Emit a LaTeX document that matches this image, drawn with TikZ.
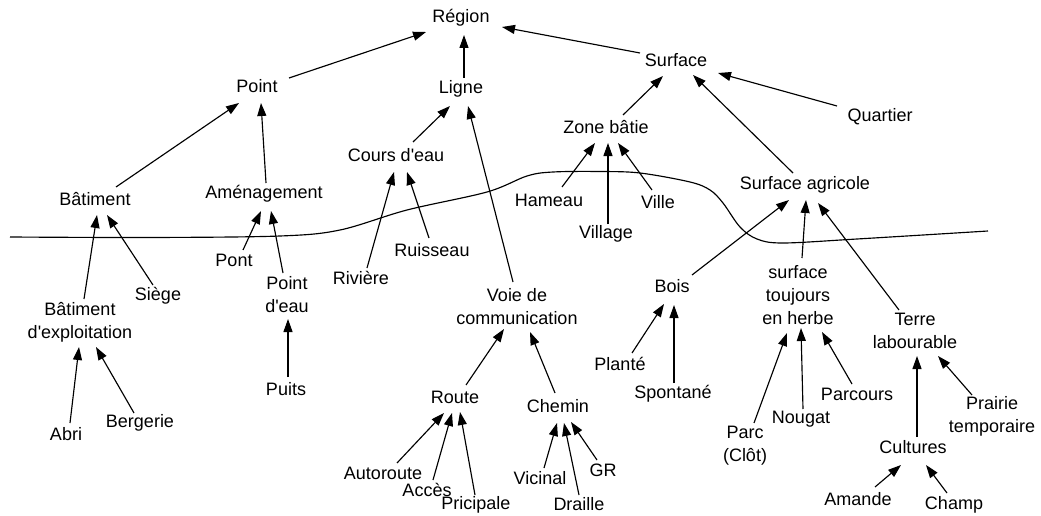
\documentclass[tikz,border=0pt]{standalone}
\usepackage{fontspec}
\setmainfont{Liberation Sans}[Ligatures=TeXOff]
\usetikzlibrary{arrows.meta}
\newcommand\conn[4]{\draw[arr] ([shift={(#2)}]#1.center) -- ([shift={(#4)}]#3.center);}
\begin{document}
\begin{tikzpicture}[x=1pt,y=-1pt,
  lbl/.style={inner sep=0pt, align=center, font=\fontsize{18}{23}\selectfont},
  arr/.style={line width=1.15pt, -{Triangle[length=13pt,width=9pt]}}]
\fill[white] (0,0) rectangle (1041,516);
\useasboundingbox (0,0) rectangle (1041,516);
% nodes
\node[lbl] (reg) at (461,18) {Région};
\node[lbl] (pt) at (257,86) {Point};
\node[lbl] (lig) at (461,89) {Ligne};
\node[lbl] (surf) at (676,60) {Surface};
\node[lbl] (quart) at (880,117) {Quartier};
\node[lbl] (zone) at (606,127) {Zone bâtie};
\node[lbl] (cours) at (396,155) {Cours d'eau};
\node[lbl] (bat) at (95,199) {Bâtiment};
\node[lbl] (amen) at (264,194) {Aménagement};
\node[lbl] (sagr) at (805,185) {Surface agricole};
\node[lbl] (ham) at (549,200) {Hameau};
\node[lbl] (ville) at (658,202) {Ville};
\node[lbl] (vill) at (606,234) {Village};
\node[lbl] (ruis) at (432,250) {Ruisseau};
\node[lbl] (riv) at (361,278) {Rivière};
\node[lbl] (pont) at (234,260) {Pont};
\node[lbl] (pteau) at (287,295) {Point\\d'eau};
\node[lbl] (siege) at (158,296) {Siège};
\node[lbl] (batex) at (80,322) {Bâtiment\\d'exploitation};
\node[lbl] (puits) at (286,389) {Puits};
\node[lbl] (abri) at (66,434) {Abri};
\node[lbl] (berg) at (140,423) {Bergerie};
\node[lbl] (voie) at (517,307) {Voie de\\communication};
\node[lbl] (route) at (455,397) {Route};
\node[lbl] (chemin) at (558,406) {Chemin};
\node[lbl] (auto) at (383,473) {Autoroute};
\node[lbl] (acces) at (427,490) {Accès};
\node[lbl] (prin) at (476,505) {Pricipale};
\node[lbl] (vic) at (540,478) {Vicinal};
\node[lbl] (drai) at (579,504) {Draille};
\node[lbl] (gr) at (603,470) {GR};
\node[lbl] (bois) at (672,286) {Bois};
\node[lbl] (plante) at (620,364) {Planté};
\node[lbl] (spont) at (673,394) {Spontané};
\node[lbl] (herbe) at (798,295) {surface\\toujours\\en herbe};
\node[lbl] (terre) at (915,331) {Terre\\labourable};
\node[lbl] (parc) at (745,446) {Parc\\(Clôt)};
\node[lbl] (noug) at (801,419) {Nougat};
\node[lbl] (parcours) at (857,394) {Parcours};
\node[lbl] (prairie) at (992,416) {Prairie\\temporaire};
\node[lbl] (cult) at (913,447) {Cultures};
\node[lbl] (amande) at (858,499) {Amande};
\node[lbl] (champ) at (954,505) {Champ};
% wavy line
\draw[line width=1.15pt] plot[smooth, tension=0.55] coordinates {
 (10,237) (150,237.5) (280,236) (340,230) (407,210) (487,192) (527,176)
 (553,172) (600,171.5) (640,173) (690,182) (710,190) (723,203) (740,227)
 (757,239) (783,243) (857,239) (988,231)};
% connectors
\conn{pt}{32,-8}{reg}{-35,14}
\conn{lig}{3,-11}{reg}{3,17}
\conn{surf}{-36,-7}{reg}{41,9}
\conn{bat}{21,-12}{pt}{-18,17}
\conn{amen}{2,-11}{pt}{4,17}
\conn{cours}{17,-13}{lig}{-11,17}
\conn{voie}{-4,-25}{lig}{7,17}
\conn{zone}{17,-12}{surf}{-13,16}
\conn{sagr}{-12,-12}{surf}{17,15}
\conn{quart}{-43,-11}{surf}{42,13}
\conn{ham}{13,-13}{zone}{-11,16}
\conn{vill}{2,-10}{zone}{2,16}
\conn{ville}{-6,-12}{zone}{12,16}
\conn{riv}{6,-10}{cours}{-2,17}
\conn{ruis}{-3,-12}{cours}{11,17}
\conn{siege}{-5,-11}{bat}{12,16}
\conn{batex}{4,-23}{bat}{2,16}
\conn{pont}{9,-10}{amen}{-3,17}
\conn{pteau}{-4,-22}{amen}{7,17}
\conn{puits}{2,-12}{pteau}{1,24}
\conn{abri}{4,-11}{batex}{-1,25}
\conn{berg}{-6,-10}{batex}{16,25}
\conn{route}{11,-12}{voie}{-13,22}
\conn{chemin}{-3,-13}{voie}{13,25}
\conn{auto}{14,-10}{route}{-11,16}
\conn{acces}{6,-10}{route}{-3,16}
\conn{prin}{-1,-10}{route}{5,15}
\conn{vic}{4,-10}{chemin}{-1,17}
\conn{drai}{0,-9}{chemin}{6,17}
\conn{gr}{-6,-10}{chemin}{13,16}
\conn{bois}{20,-11}{sagr}{-16,15}
\conn{herbe}{4,-37}{sagr}{1,15}
\conn{terre}{-16,-21}{sagr}{13,18}
\conn{plante}{12,-11}{bois}{-8,18}
\conn{spont}{1,-11}{bois}{2,19}
\conn{parc}{9,-23}{herbe}{-11,38}
\conn{noug}{2,-10}{herbe}{3,33}
\conn{parcours}{-5,-10}{herbe}{24,37}
\conn{cult}{4,-10}{terre}{2,25}
\conn{prairie}{-20,-21}{terre}{23,25}
\conn{amande}{17,-12}{cult}{-12,18}
\conn{champ}{-7,-12}{cult}{13,18}
\end{tikzpicture}
\end{document}
